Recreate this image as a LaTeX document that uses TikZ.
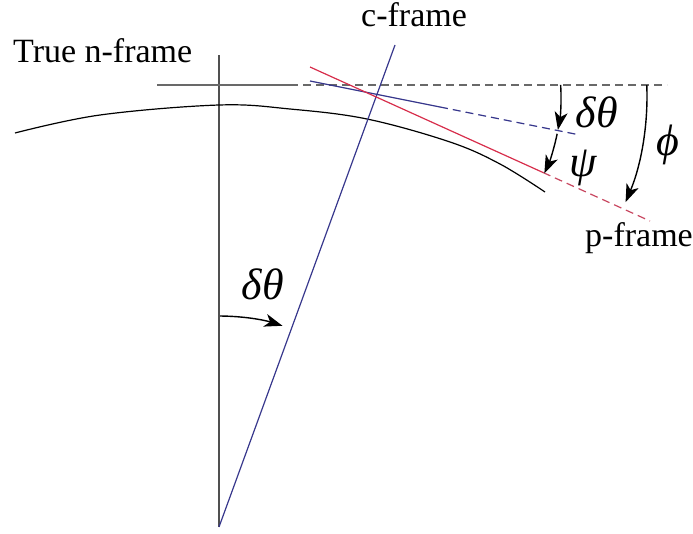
\documentclass[tikz,border=0pt]{standalone}
\usepackage{fontspec}
\setmainfont{Liberation Serif}
\usetikzlibrary{arrows.meta,calc}
\definecolor{nline}{RGB}{80,80,80}
\definecolor{hline}{RGB}{105,105,105}
\definecolor{cblue}{RGB}{55,55,140}
\definecolor{pred}{RGB}{215,45,75}
\definecolor{pdash}{RGB}{200,70,95}
\tikzset{
  lbl/.style={font=\fontsize{34}{38}\selectfont, inner sep=0pt},
  mlbl/.style={font=\fontsize{44}{48}\selectfont\itshape, inner sep=0pt},
  nframe/.style={draw=nline, line width=1.3pt},
  cframe/.style={draw=cblue, line width=1.2pt},
  pframe/.style={draw=pred, line width=1.2pt},
  angarrow/.style={draw=black, line width=1.4pt, -{Stealth[length=18pt,width=13pt,inset=5pt]}},
  hdash/.style={draw=hline, line width=1.2pt, dash pattern=on 8pt off 5pt},
}
\begin{document}
\begin{tikzpicture}[x=1pt,y=-1pt]
\useasboundingbox (0,0) rectangle (693,533);
% key points
\coordinate (ntop) at (219,55);
\coordinate (apex) at (219,527);
\coordinate (hl) at (157,85);
\coordinate (hm) at (290,85);
\coordinate (hr) at (667,85);
\coordinate (ctop) at (395,45);
\coordinate (O) at (373,96);
\coordinate (rs) at (310,67);
\coordinate (rm) at (543,172.5);
\coordinate (re) at (650,221);
\coordinate (bs) at (310,81);
\coordinate (bm) at (440,107);
\coordinate (be) at (580,135);
% true n-frame
\draw[nframe] (ntop) -- (apex);
\draw[draw=hline, line width=1.2pt] (hl) -- (hm);
\draw[hdash] (hm) -- (hr);
% earth surface
\draw[draw=black, line width=1.2pt] plot[smooth, tension=0.6] coordinates
  {(15,133) (100,115) (219,105) (290,109) (367,119) (450,142) (500,164) (545,192)};
% c-frame
\draw[cframe] (apex) -- (ctop);
% blue (c-frame level) line
\draw[cframe] (bs) -- (bm);
\draw[cframe, dash pattern=on 8pt off 5pt] (bm) -- (be);
% p-frame red line
\draw[pframe] (rs) -- (rm);
\draw[draw=pdash, line width=1.2pt, dash pattern=on 8pt off 5pt] (rm) -- (re);
% angle arrows
\draw[angarrow] ($(O)+(-3.4:188)$) arc[start angle=-3.4, end angle=10.4, radius=188];
\draw[angarrow] ($(O)+(11.6:188)$) arc[start angle=11.6, end angle=24.3, radius=188];
\draw[angarrow] ($(O)+(-2.3:274)$) arc[start angle=-2.3, end angle=22.8, radius=274];
\draw[angarrow] ($(apex)+(-89.7:211)$) arc[start angle=-89.7, end angle=-72.5, radius=211];
% labels
\node[lbl, anchor=base west] (ntext) at (13,62) {True n-frame};
\node[lbl, anchor=base west] (ctext) at (361,26) {c-frame};
\node[lbl, anchor=base west] (ptext) at (585,246) {p-frame};
\node[mlbl] (dth1) at (597,112) {δθ};
\node[mlbl] (psi) at (583,168) {ψ};
\node[mlbl] (phi) at (668,145) {ϕ};
\node[mlbl] (dth2) at (263,284) {δθ};
\end{tikzpicture}
\end{document}
